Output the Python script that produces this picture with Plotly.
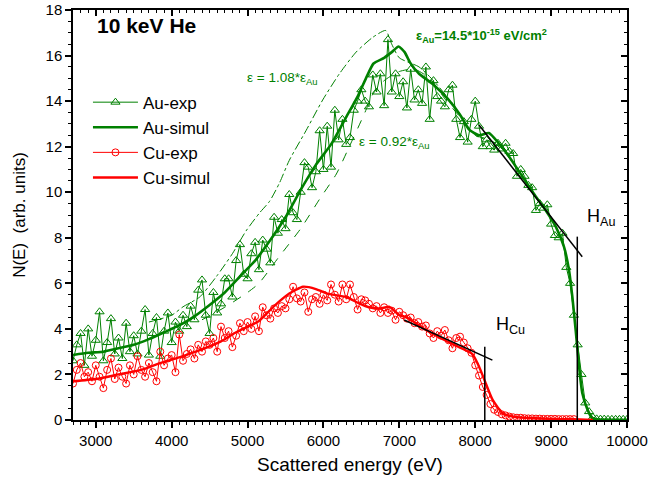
import numpy as np
import plotly.graph_objects as go

# ---------------- data ----------------
au_exp_e = np.arange(2700, 10001, 50)
au_exp_n = [
    2.6, 3.3, 3.8, 2.4, 4.0, 2.8, 3.5, 4.75, 2.6, 3.4,
    4.45, 2.9, 3.6, 2.7, 4.25, 3.0, 3.7, 2.9, 3.9, 4.85,
    2.85, 3.8, 4.5, 2.8, 3.9, 4.7, 3.4, 4.3, 3.9, 4.6,
    4.1, 5.0, 4.4, 5.7, 6.15, 4.6, 3.8, 5.6, 4.7, 5.1,
    6.2, 6.2, 5.4, 7.0, 7.7, 6.4, 6.2, 7.3, 7.8, 6.6,
    7.9, 7.5, 6.9, 8.9, 8.2, 8.8, 8.4, 9.9, 9.1, 8.8,
    10.0, 11.3, 11.1, 10.2, 10.9, 12.7, 11.0, 12.9, 11.1, 13.6,
    12.3, 13.2, 12.1, 12.4, 13.6, 14.0, 14.5, 14.0, 13.75, 15.15,
    14.4, 15.2, 13.8, 16.7, 14.4, 15.2, 14.2, 14.85, 13.7, 15.4,
    14.05, 14.5, 13.9, 15.5, 13.2, 14.9, 14.2, 14.0, 13.75, 14.5,
    14.7, 13.2, 12.4, 13.1, 12.2, 13.2, 14.0, 12.9, 12.0, 12.3,
    12.0, 11.85, 12.15, 11.9, 12.15, 11.8, 11.7, 10.7, 11.0, 10.7,
    10.3, 10.2, 9.2, 9.5, 9.3, 9.45, 8.6, 8.1, 8.0, 8.2,
    6.7, 6.0, 4.6, 3.3, 2.0, 0.75, 0.37, 0.12, 0.05, 0.04,
    0.04, 0.03, 0.03, 0.03, 0.03, 0.03, 0.03,
]

cu_exp_e = np.arange(2700, 9301, 50)
cu_exp_n = [
    1.6, 2.2, 2.5, 1.9, 2.1, 1.7, 2.4, 1.9, 1.4, 2.2,
    2.7, 1.8, 2.3, 1.9, 1.6, 2.4, 2.0, 2.8, 2.2, 1.9,
    2.5, 2.1, 1.7, 3.0, 2.4, 2.7, 2.85, 2.1, 3.75, 2.6,
    2.9, 3.1, 2.7, 3.3, 3.0, 3.45, 3.3, 3.6, 3.0, 4.1,
    3.6, 3.9, 3.2, 3.7, 4.25, 3.9, 4.3, 4.0, 4.55, 3.9,
    4.95, 4.6, 4.45, 4.9, 4.7, 5.0, 4.9, 5.3, 5.85, 5.34,
    5.2, 5.6, 4.75, 5.3, 5.4, 5.1, 5.5, 5.25, 5.95, 5.5,
    5.2, 5.95, 5.3, 5.95, 5.4, 4.85, 5.3, 5.25, 5.1, 4.9,
    5.0, 4.7, 4.95, 4.7, 4.8, 4.4, 4.75, 4.6, 4.45, 4.5,
    4.25, 4.3, 4.1, 4.15, 3.8, 3.6, 3.9, 3.7, 3.95, 3.5,
    3.15, 3.6, 3.66, 3.4, 3.15, 2.95, 2.4, 1.95, 1.45, 1.1,
    0.7, 0.45, 0.35, 0.25, 0.2, 0.15, 0.12, 0.1, 0.1, 0.08,
    0.07, 0.07, 0.06, 0.06, 0.05, 0.05, 0.05, 0.05, 0.04, 0.04,
    0.04, 0.04, 0.04,
]

au_sim_e = [2700, 2900, 3100, 3300, 3500, 3700, 3900, 4100, 4300, 4500,
            4700, 4900, 5100, 5300, 5500, 5700, 5900, 6100, 6300, 6450,
            6560, 6660, 6800, 6900, 6990, 7070, 7140, 7260, 7440, 7650,
            7800, 7920, 8050, 8180, 8310, 8450, 8620, 8800, 8930, 9060,
            9170, 9235, 9280, 9325, 9370, 9410, 9480, 9540, 9600, 9800, 10000]
au_sim_n = [2.85, 2.95, 3.0, 3.15, 3.3, 3.55, 3.85, 4.15, 4.55, 5.05,
            5.6, 6.3, 7.0, 7.9, 8.9, 10.1, 11.2, 12.1, 13.3, 14.2,
            15.0, 15.65, 15.9, 16.15, 16.4, 16.15, 15.7, 15.2, 14.75, 14.05,
            13.4, 12.75, 12.5, 12.6, 12.15, 11.55, 10.7, 9.8, 9.2, 8.5,
            7.6, 6.6, 5.4, 3.9, 2.3, 1.2, 0.45, 0.08, 0.02, 0.0, 0.0]

cu_sim_e = [2700, 3000, 3300, 3600, 3850, 4100, 4400, 4650, 4850, 5150,
            5350, 5550, 5730, 5900, 6050, 6300, 6470, 6600, 6750, 6870,
            7000, 7100, 7350, 7600, 7880, 7960, 8050, 8140, 8230, 8360,
            8500, 8650, 9000, 9300, 9550]
cu_sim_n = [1.7, 1.8, 2.0, 2.2, 2.5, 2.75, 3.1, 3.45, 3.85, 4.35,
            5.0, 5.55, 5.85, 5.75, 5.55, 5.4, 5.12, 4.95, 4.9, 4.97,
            4.6, 4.5, 3.95, 3.5, 3.05, 2.9, 2.35, 1.6, 0.88, 0.3,
            0.15, 0.1, 0.05, 0.03, 0.0]

# epsilon = 0.92 * eps_Au (dashed)
lo_e = [4400, 4700, 5000, 5150, 5400, 5700, 5950, 6170, 6320, 6540,
        6650, 6800, 7000, 7200, 7400, 7600, 7800, 8000, 8200, 8400, 8600]
lo_n = [4.4, 4.95, 5.6, 6.0, 7.1, 8.4, 9.7, 10.8, 11.85, 13.45,
        14.3, 14.9, 15.3, 15.4, 15.0, 14.1, 13.3, 12.5, 12.3, 11.7, 10.8]

# epsilon = 1.08 * eps_Au (dash-dot)
hi_e = [3700, 4000, 4150, 4370, 4590, 4800, 4980, 5160, 5290, 5420,
        5550, 5770, 5990, 6210, 6430, 6650, 6820, 6900, 7000, 7260,
        7450, 7700, 8000, 8300, 8500]
hi_n = [4.3, 4.6, 4.97, 5.4, 6.3, 7.3, 8.3, 9.1, 9.6, 10.4,
        11.4, 12.7, 14.05, 15.2, 16.15, 16.8, 17.1, 16.5, 15.9, 15.5,
        14.9, 13.9, 12.5, 12.1, 11.3]

# edge construction lines
au_tan_e = [8050, 9410]
au_tan_n = [12.95, 7.17]
au_edge_e = [9345, 9345]
au_edge_n = [0, 8.05]
cu_tan_e = [7064, 8226]
cu_tan_n = [4.39, 2.63]
cu_edge_e = [8126, 8126]
cu_edge_n = [0, 3.22]

x_ticks = [3000, 4000, 5000, 6000, 7000, 8000, 9000, 10000]
y_ticks = [0, 2, 4, 6, 8, 10, 12, 14, 16, 18]

GREEN = "#008000"
RED = "#FF0000"
FONT = "Arial, Liberation Sans, sans-serif"

fig = go.Figure()

fig.add_trace(go.Scatter(x=hi_e, y=hi_n, mode="lines", showlegend=False,
                         line=dict(color=GREEN, width=1, dash="dashdot", shape="spline", smoothing=0.6)))
fig.add_trace(go.Scatter(x=lo_e, y=lo_n, mode="lines", showlegend=False,
                         line=dict(color=GREEN, width=1, dash="dash", shape="spline", smoothing=0.6)))
fig.add_trace(go.Scatter(x=au_exp_e, y=au_exp_n, mode="lines+markers", name="Au-exp", legendgroup="g1",
                         line=dict(color=GREEN, width=1),
                         marker=dict(symbol="triangle-up-open", size=8, color=GREEN, line=dict(width=1, color=GREEN))))
fig.add_trace(go.Scatter(x=au_sim_e, y=au_sim_n, mode="lines", name="Au-simul", legendgroup="g2",
                         line=dict(color=GREEN, width=2.6, shape="spline", smoothing=0.5)))
fig.add_trace(go.Scatter(x=cu_exp_e, y=cu_exp_n, mode="lines+markers", name="Cu-exp", legendgroup="g3",
                         line=dict(color=RED, width=1),
                         marker=dict(symbol="circle-open", size=7, color=RED, line=dict(width=1, color=RED))))
fig.add_trace(go.Scatter(x=cu_sim_e, y=cu_sim_n, mode="lines", name="Cu-simul", legendgroup="g4",
                         line=dict(color=RED, width=2.4, shape="spline", smoothing=0.5)))

for xe, yn in [(au_tan_e, au_tan_n), (au_edge_e, au_edge_n), (cu_tan_e, cu_tan_n), (cu_edge_e, cu_edge_n)]:
    fig.add_trace(go.Scatter(x=xe, y=yn, mode="lines", showlegend=False,
                             line=dict(color="black", width=1.5)))

# dummy trace for mirrored (top / right) axes
fig.add_trace(go.Scatter(x=[None], y=[None], xaxis="x2", yaxis="y2", showlegend=False, hoverinfo="skip"))

axis_common = dict(showline=True, linecolor="black", linewidth=1.5, showgrid=False, zeroline=False,
                   tickcolor="black", tickwidth=1.5, ticklen=6, automargin=False)

fig.update_layout(
    width=648, height=489,
    margin=dict(l=73, r=21, t=10, b=69),
    paper_bgcolor="white", plot_bgcolor="white",
    font=dict(family=FONT, color="black"),
    xaxis=dict(range=[2700, 10000], tickmode="array", tickvals=x_ticks,
               ticktext=[str(v) for v in x_ticks], ticks="outside",
               tickfont=dict(size=15),
               minor=dict(dtick=100, tick0=0, ticks="outside", ticklen=3.5, tickwidth=1, tickcolor="black"),
               title=dict(text="Scattered energy (eV)", font=dict(size=19), standoff=10),
               **axis_common),
    yaxis=dict(range=[0, 18], tickmode="array", tickvals=y_ticks,
               ticktext=[str(v) for v in y_ticks], ticks="outside",
               tickfont=dict(size=15),
               minor=dict(dtick=0.5, tick0=0, ticks="outside", ticklen=3.5, tickwidth=1, tickcolor="black"),
               title=dict(text="N(E)  (arb. units)", font=dict(size=17), standoff=16),
               **axis_common),
    xaxis2=dict(range=[2700, 10000], overlaying="x", side="top", anchor="y2",
                tickmode="array", tickvals=x_ticks,
                ticks="inside", showticklabels=False,
                minor=dict(dtick=100, tick0=0, ticks="inside", ticklen=3.5, tickwidth=1, tickcolor="black"),
                **axis_common),
    yaxis2=dict(range=[0, 18], overlaying="y", side="right", anchor="x2",
                tickmode="array", tickvals=y_ticks,
                ticks="inside", showticklabels=False,
                minor=dict(dtick=0.5, tick0=0, ticks="inside", ticklen=3.5, tickwidth=1, tickcolor="black"),
                **axis_common),
    legend=dict(x=0.027, y=0.818, xanchor="left", yanchor="top", bgcolor="rgba(0,0,0,0)",
                font=dict(size=17), itemwidth=45, tracegroupgap=0, traceorder="normal"),
    showlegend=True,
)

ann = [
    dict(x=2985, y=17.34, text="<b>10 keV He</b>", font=dict(size=21, color="black"), xanchor="left"),
    dict(x=7193, y=16.86, text="<b>ε<sub>Au</sub>=14.5*10<sup>-15</sup> eV/cm<sup>2</sup></b>",
         font=dict(size=13, color=GREEN), xanchor="left"),
    dict(x=4969, y=15.01, text="ε = 1.08*ε<sub>Au</sub>", font=dict(size=13.5, color=GREEN), xanchor="left"),
    dict(x=6441, y=12.2, text="ε = 0.92*ε<sub>Au</sub>", font=dict(size=13.5, color=GREEN), xanchor="left"),
    dict(x=9452, y=8.87, text="H<sub>Au</sub>", font=dict(size=18, color="black"), xanchor="left"),
    dict(x=8249, y=4.17, text="H<sub>Cu</sub>", font=dict(size=18, color="black"), xanchor="left"),
]
for a in ann:
    fig.add_annotation(xref="x", yref="y", showarrow=False, yanchor="middle", **a)

fig.write_html("out.html")
